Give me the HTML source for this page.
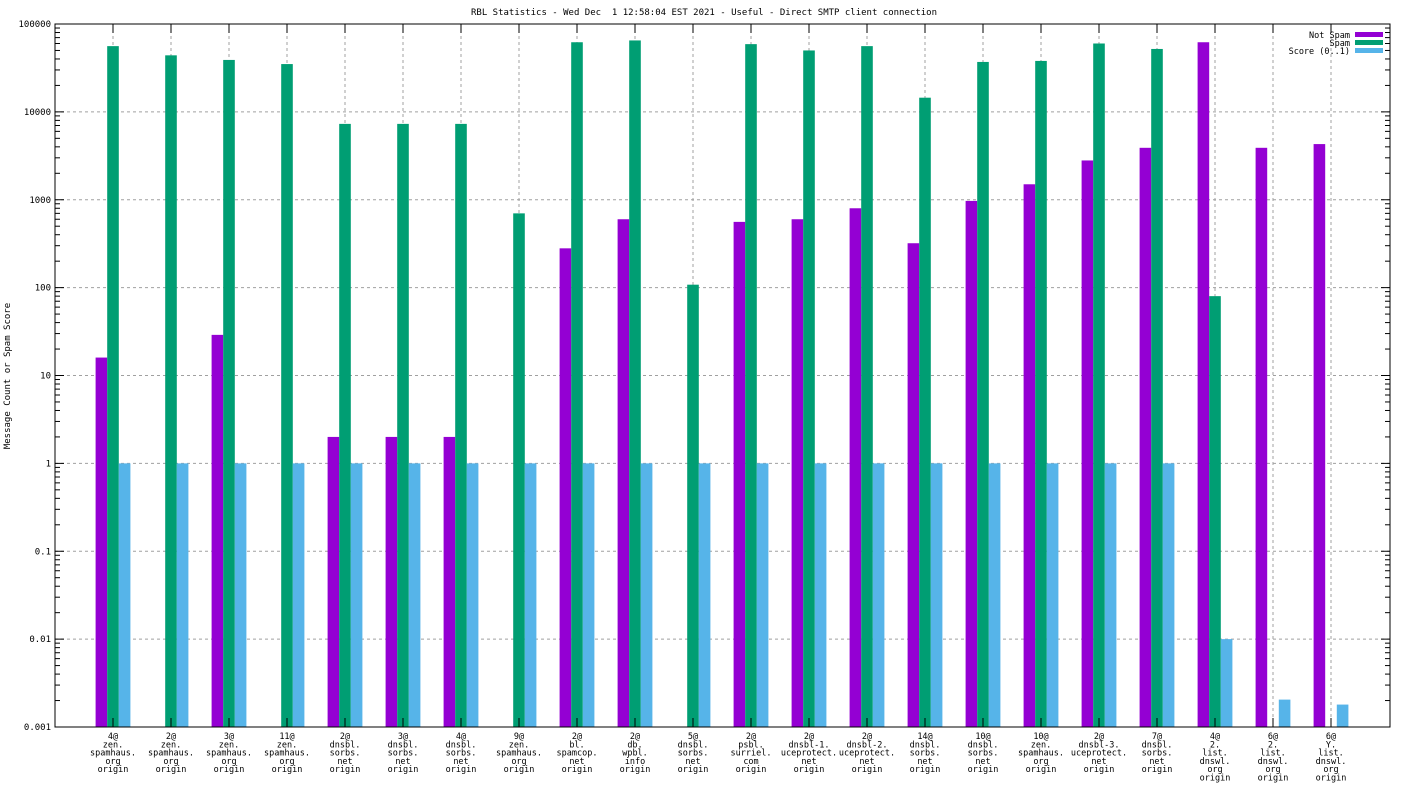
<!DOCTYPE html>
<html><head><meta charset="utf-8"><style>
body{margin:0;background:#fff}
svg text{font-family:"DejaVu Sans Mono","Liberation Mono",monospace;font-size:9px;fill:#000}
svg text.xl{font-size:8.5px}
</style></head><body>
<svg id="chart" width="1408" height="792" xmlns="http://www.w3.org/2000/svg"></svg>
<script>
const categories=[
["4@","zen.","spamhaus.","org","origin"],["2@","zen.","spamhaus.","org","origin"],["3@","zen.","spamhaus.","org","origin"],["11@","zen.","spamhaus.","org","origin"],
["2@","dnsbl.","sorbs.","net","origin"],["3@","dnsbl.","sorbs.","net","origin"],["4@","dnsbl.","sorbs.","net","origin"],["9@","zen.","spamhaus.","org","origin"],
["2@","bl.","spamcop.","net","origin"],["2@","db.","wpbl.","info","origin"],["5@","dnsbl.","sorbs.","net","origin"],["2@","psbl.","surriel.","com","origin"],
["2@","dnsbl-1.","uceprotect.","net","origin"],["2@","dnsbl-2.","uceprotect.","net","origin"],["14@","dnsbl.","sorbs.","net","origin"],["10@","dnsbl.","sorbs.","net","origin"],
["10@","zen.","spamhaus.","org","origin"],["2@","dnsbl-3.","uceprotect.","net","origin"],["7@","dnsbl.","sorbs.","net","origin"],["4@","2.","list.","dnswl.","org","origin"],
["6@","2.","list.","dnswl.","org","origin"],["6@","Y.","list.","dnswl.","org","origin"]];
const notSpam=[16,null,29,null,2,2,2,null,280,600,null,560,600,800,320,970,1500,2800,3900,62000,3900,4300];
const spam=[56000,44000,39000,35000,7300,7300,7300,700,62000,65000,108,59000,50000,56000,14500,37000,38000,60000,52000,80,null,null];
const score=[1,1,1,1,1,1,1,1,1,1,1,1,1,1,1,1,1,1,1,0.01,0.00205,0.0018];
const yTicks=["0.001","0.01","0.1","1","10","100","1000","10000","100000"];
const seriesNames=["Not Spam","Spam","Score (0..1)"];
const colors=["#9400d3","#009e73","#56b4e9"];

const svg=document.getElementById('chart');const NS="http://www.w3.org/2000/svg";
const L=55,R=1390,T=24,B=727;
const y=v=>B-(Math.log10(v)+3)*(B-T)/8;
const x=i=>113+i*58;
const BW=11.6;
function mk(t,a,p){const e=document.createElementNS(NS,t);for(const k in a)e.setAttribute(k,a[k]);(p||svg).appendChild(e);return e;}
for(let k=1;k<8;k++){const g=mk('line',{x1:L,x2:R,y1:y(Math.pow(10,k-3)),y2:y(Math.pow(10,k-3)),stroke:'#a0a0a0','stroke-dasharray':'3,3'});

}
categories.forEach((c,i)=>{const g=mk('line',{x1:x(i),x2:x(i),y1:T,y2:B,stroke:'#a0a0a0','stroke-dasharray':'3,3'});

});
[notSpam,spam,score].forEach((s,si)=>{s.forEach((v,i)=>{if(v==null)return;
const top=y(v);const r=mk('rect',{x:x(i)+(si-1)*BW-BW/2,y:top,width:BW,height:B-top,fill:colors[si]});

});});
const f=mk('rect',{x:L,y:T,width:R-L,height:B-T,fill:'none',stroke:'#000'});


yTicks.forEach((t,k)=>{const yy=y(Number(t));
mk('line',{x1:L,x2:L+9,y1:yy,y2:yy,stroke:'#000'});mk('line',{x1:R,x2:R-9,y1:yy,y2:yy,stroke:'#000'});
const tx=mk('text',{x:L-4,y:yy+3,'text-anchor':'end'});tx.textContent=t;


if(k<8)for(let m=2;m<10;m++){const ym=y(Number(t)*m);mk('line',{x1:L,x2:L+5,y1:ym,y2:ym,stroke:'#000'});mk('line',{x1:R,x2:R-5,y1:ym,y2:ym,stroke:'#000'});}});
categories.forEach((c,i)=>{mk('line',{x1:x(i),x2:x(i),y1:B,y2:B-9,stroke:'#000'});mk('line',{x1:x(i),x2:x(i),y1:T,y2:T+9,stroke:'#000'});
const t=mk('text',{x:x(i),y:739,'text-anchor':'middle','class':'xl'});


c.forEach((l,j)=>{const s=mk('tspan',{x:x(i),y:739+j*8.3},t);s.textContent=l;});});
const ti=mk('text',{x:704,y:15,'text-anchor':'middle'});ti.textContent="RBL Statistics - Wed Dec  1 12:58:04 EST 2021 - Useful - Direct SMTP client connection";


ti.style.whiteSpace='pre';
const yl=mk('text',{x:10,y:376,'text-anchor':'middle',transform:'rotate(-90 10 376)'});yl.textContent="Message Count or Spam Score";


seriesNames.forEach((n,k)=>{const ly=35+k*8;
const t=mk('text',{x:1350,y:ly+3,'text-anchor':'end','class':'xl'});t.textContent=n;


const r=mk('rect',{x:1355,y:ly-3,width:28,height:5,fill:colors[k]});

});
</script>
</body></html>
